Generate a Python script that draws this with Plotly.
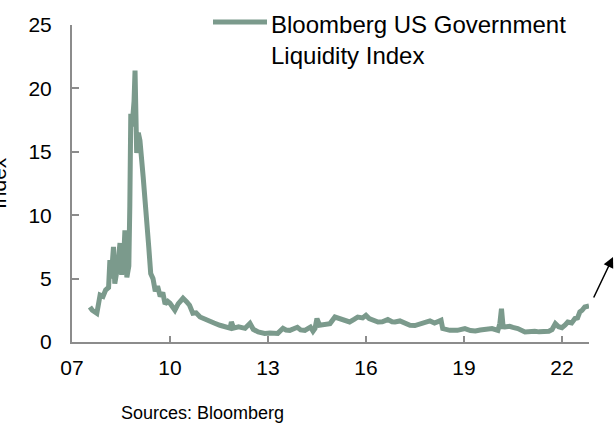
import plotly.graph_objects as go

# ---- data (decimal years, index values) ----
years = [2007.55, 2007.62, 2007.76, 2007.86, 2007.95, 2008.03, 2008.12, 2008.16, 2008.20, 2008.27,
         2008.31, 2008.40, 2008.47, 2008.52, 2008.58, 2008.62, 2008.68, 2008.74, 2008.77, 2008.80,
         2008.84, 2008.90, 2008.93, 2008.96, 2008.98, 2009.03, 2009.08, 2009.18, 2009.29, 2009.35,
         2009.41, 2009.48, 2009.55, 2009.62, 2009.70, 2009.78, 2009.85, 2009.93, 2010.00, 2010.15,
         2010.25, 2010.40, 2010.50, 2010.60, 2010.70, 2010.80, 2010.92, 2011.05, 2011.22, 2011.35,
         2011.53, 2011.70, 2011.84, 2011.88, 2011.95, 2012.10, 2012.30, 2012.45, 2012.55, 2012.70,
         2012.90, 2013.06, 2013.30, 2013.46, 2013.55, 2013.67, 2013.90, 2014.00, 2014.13, 2014.30,
         2014.38, 2014.44, 2014.50, 2014.58, 2014.75, 2014.90, 2015.05, 2015.20, 2015.36, 2015.50,
         2015.65, 2015.75, 2015.90, 2016.00, 2016.10, 2016.25, 2016.37, 2016.50, 2016.67, 2016.80,
         2016.89, 2017.04, 2017.20, 2017.35, 2017.50, 2017.65, 2017.80, 2017.96, 2018.10, 2018.20,
         2018.30, 2018.35, 2018.45, 2018.57, 2018.80, 2019.03, 2019.20, 2019.35, 2019.50, 2019.64,
         2019.86, 2020.04, 2020.10, 2020.15, 2020.20, 2020.25, 2020.40, 2020.50, 2020.65, 2020.87,
         2021.00, 2021.17, 2021.30, 2021.48, 2021.60, 2021.70, 2021.80, 2021.90, 2022.00, 2022.10,
         2022.18, 2022.30, 2022.40, 2022.48, 2022.55, 2022.62, 2022.70, 2022.83]
liquidity_index = [2.76, 2.50, 2.26, 3.70, 3.60, 4.10, 4.30, 6.45, 5.00, 7.50,
                   4.60, 6.00, 7.80, 5.30, 6.50, 8.80, 5.10, 6.00, 10.70, 18.00,
                   17.00, 19.00, 21.40, 16.00, 14.90, 16.50, 15.90, 13.00, 8.60, 7.50,
                   5.40, 5.00, 4.00, 4.40, 3.60, 3.90, 3.00, 3.20, 3.05, 2.50,
                   3.00, 3.45, 3.20, 2.90, 2.26, 2.30, 1.97, 1.80, 1.58, 1.50,
                   1.32, 1.20, 1.10, 1.58, 1.10, 1.20, 1.08, 1.47, 1.00, 0.79,
                   0.68, 0.71, 0.68, 1.08, 0.95, 0.92, 1.16, 0.95, 0.92, 1.18,
                   0.85, 1.06, 1.85, 1.32, 1.40, 1.45, 1.97, 1.85, 1.71, 1.58,
                   1.80, 1.97, 1.90, 2.10, 1.85, 1.75, 1.58, 1.60, 1.77, 1.60,
                   1.58, 1.66, 1.45, 1.32, 1.30, 1.45, 1.60, 1.66, 1.50, 1.58,
                   1.71, 1.06, 0.95, 0.92, 0.92, 1.06, 0.90, 0.87, 0.95, 0.98,
                   1.06, 0.92, 1.45, 2.63, 1.20, 1.18, 1.24, 1.15, 1.06, 0.79,
                   0.85, 0.84, 0.80, 0.79, 0.85, 0.98, 1.45, 1.20, 1.13, 1.35,
                   1.58, 1.50, 1.85, 1.90, 2.37, 2.50, 2.76, 2.84]

x_tick_vals = [2007, 2010, 2013, 2016, 2019, 2022]
x_tick_text = ["07", "10", "13", "16", "19", "22"]
y_tick_vals = [0, 5, 10, 15, 20, 25]
series_name = "Bloomberg US Government<br>Liquidity Index"
y_title = "Index"
source_text = "Sources: Bloomberg"

LINE_COLOR = "#7B9A8C"
AXIS_COLOR = "#8C8C8C"
FONT = "Liberation Sans, Arial, sans-serif"

W, H = 615, 423
L, R, T, B = 72, 26, 25, 81
PW = W - L - R
PH = H - T - B


def px_x(p):
    return (p - L) / PW


def px_y(p):
    return (H - B - p) / PH


fig = go.Figure()
fig.add_trace(go.Scatter(x=years, y=liquidity_index, mode="lines",
                         line=dict(color=LINE_COLOR, width=5),
                         name=series_name, showlegend=False))

fig.update_layout(
    width=W, height=H,
    margin=dict(l=L, r=R, t=T, b=B),
    paper_bgcolor="white", plot_bgcolor="white",
    font=dict(family=FONT, size=21, color="black"),
    xaxis=dict(range=[2007, 2022.83], tickvals=x_tick_vals, ticktext=x_tick_text,
               showgrid=False, zeroline=False, showline=True, linecolor=AXIS_COLOR,
               linewidth=2, ticks="inside", ticklen=6, tickwidth=2, tickcolor=AXIS_COLOR,
               tickfont=dict(size=21), ticklabelstandoff=6),
    yaxis=dict(range=[0, 25], tickvals=y_tick_vals, showgrid=False, zeroline=False,
               showline=True, linecolor=AXIS_COLOR, linewidth=2, ticks="inside",
               ticklen=7, tickwidth=2, tickcolor=AXIS_COLOR, tickfont=dict(size=21),
               ticklabelstandoff=14),
    showlegend=False,
)

# manual legend
fig.add_shape(type="line", xref="paper", yref="paper",
              x0=px_x(213), x1=px_x(267), y0=px_y(22), y1=px_y(22),
              line=dict(color=LINE_COLOR, width=5))
fig.add_annotation(xref="paper", yref="paper", x=px_x(269), y=px_y(9),
                   xanchor="left", yanchor="top", align="left", showarrow=False,
                   text=series_name, font=dict(size=24, family=FONT))

# clipped y-axis title
fig.add_annotation(xref="paper", yref="paper", x=px_x(-2), y=px_y(183),
                   xanchor="center", yanchor="middle", textangle=-90, showarrow=False,
                   text=y_title, font=dict(size=21, family=FONT))

# source
fig.add_annotation(xref="paper", yref="paper", x=px_x(119), y=px_y(413),
                   xanchor="left", yanchor="middle", showarrow=False,
                   text=source_text, font=dict(size=18, family=FONT))

# arrow
fig.add_annotation(xref="paper", yref="paper", x=px_x(613), y=px_y(257),
                   ax=-20, ay=42, text="", showarrow=True, arrowhead=2,
                   arrowsize=1.4, arrowwidth=1.5, arrowcolor="black")

fig.write_html("out.html", config={"displayModeBar": False},
               post_script="document.body.style.margin='0';document.body.style.overflow='hidden';")
